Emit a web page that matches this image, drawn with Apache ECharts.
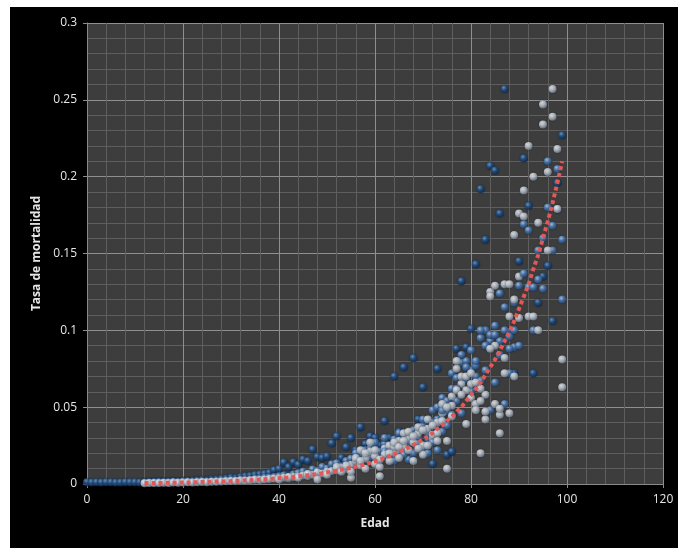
<!DOCTYPE html>
<html>
<head>
<meta charset="utf-8">
<script src="https://cdn.jsdelivr.net/npm/echarts@6/dist/echarts.min.js"></script>
<style>
html,body{margin:0;padding:0;background:#ffffff;}
#chart{position:absolute;left:0;top:0;width:678px;height:548px;}
</style>
</head>
<body>
<div id="chart"></div>
<script>
// ---- DATA ----
var xTickLabels = ['0','20','40','60','80','100','120'];
var yTickLabels = ['0','0.05','0.1','0.15','0.2','0.25','0.3'];

var darkPoints = [[0,0.0012],[1,0.0010],[2,0.0011],[3,0.0010],[4,0.0012],[5,0.0011],[6,0.0009],[7,0.0010],[8,0.0012],[9,0.0011],[10,0.0011],[11,0.0010],[12,0.0012],[13,0.0013],[14,0.0015],[15,0.0016],[16,0.0014],[17,0.0016],[18,0.0018],[19,0.0017],[20,0.0020],[21,0.0019],[22,0.0021],[23,0.0024],[24,0.0026],[25,0.0023],[26,0.0027],[27,0.0030],[28,0.0034],[29,0.0036],[30,0.0040],[31,0.0038],[32,0.0045],[33,0.0050],[34,0.0052],[35,0.0058],[36,0.0062],[37,0.0066],[38,0.0072],[39,0.0090],[40,0.0098],[41,0.0140],[42,0.0110],[43,0.0142],[44,0.0125],[45,0.0160],[46,0.0150],[47,0.0225],[48,0.0175],[49,0.0170],[50,0.0180],[51,0.0265],[52,0.0310],[53,0.0170],[54,0.0240],[55,0.0300],[56,0.0220],[57,0.0370],[58,0.0260],[59,0.0310],[60,0.0300],[61,0.0250],[62,0.0410],[63,0.0300],[64,0.0700],[65,0.0340],[66,0.0760],[67,0.0280],[68,0.0820],[69,0.0420],[70,0.0630],[71,0.0280],[72,0.0130],[73,0.0750],[74,0.0430],[75,0.0190],[76,0.0210],[77,0.0880],[78,0.1320],[79,0.0890],[80,0.1010],[81,0.1430],[82,0.1920],[83,0.1590],[84,0.2070],[85,0.2040],[86,0.1760],[87,0.2570],[88,0.0990],[89,0.0720],[90,0.1450],[91,0.2120],[92,0.1810],[93,0.0720],[94,0.1180],[95,0.1350],[96,0.1420],[97,0.1060],[98,0.1960],[99,0.2270]];

var midPoints = [[12,0.0008],[13,0.0009],[14,0.0010],[15,0.0011],[16,0.0010],[17,0.0012],[18,0.0013],[19,0.0012],[20,0.0014],[21,0.0015],[22,0.0013],[23,0.0016],[24,0.0018],[25,0.0017],[26,0.0016],[27,0.0020],[28,0.0022],[29,0.0024],[30,0.0026],[31,0.0023],[32,0.0028],[33,0.0030],[34,0.0029],[35,0.0034],[36,0.0036],[37,0.0040],[38,0.0042],[39,0.0045],[40,0.0050],[41,0.0055],[42,0.0048],[43,0.0062],[44,0.0070],[45,0.0080],[46,0.0068],[47,0.0095],[48,0.0085],[49,0.0110],[50,0.0100],[51,0.0128],[52,0.0135],[53,0.0115],[54,0.0150],[55,0.0165],[56,0.0140],[57,0.0190],[58,0.0220],[59,0.0175],[60,0.0240],[61,0.0210],[62,0.0260],[63,0.0230],[64,0.0290],[65,0.0200],[66,0.0310],[67,0.0270],[68,0.0350],[69,0.0300],[70,0.0380],[71,0.0330],[72,0.0480],[73,0.0420],[74,0.0560],[75,0.0470],[76,0.0620],[77,0.0540],[78,0.0790],[79,0.0680],[80,0.0740],[81,0.0700],[82,0.0950],[83,0.1000],[84,0.0930],[85,0.1030],[86,0.0840],[87,0.1150],[88,0.0960],[89,0.0890],[90,0.1290],[91,0.1690],[92,0.1280],[93,0.1000],[94,0.1520],[95,0.1270],[96,0.1800],[97,0.1680],[98,0.2050],[99,0.1590]];

var midPoints2 = [[60,0.0270],[62,0.0210],[64,0.0150],[66,0.0190],[68,0.0200],[70,0.0420],[71,0.0200],[72,0.0270],[73,0.0220],[74,0.0480],[75,0.0380],[76,0.0450],[77,0.0620],[78,0.0840],[79,0.0760],[80,0.0870],[81,0.0800],[82,0.0670],[83,0.0740],[84,0.0970],[85,0.0970],[86,0.1240],[87,0.0520],[88,0.0880],[89,0.1180],[90,0.0900],[91,0.1370],[92,0.1650],[93,0.1280],[94,0.1330],[95,0.1600],[96,0.2100],[97,0.1520],[98,0.1790],[99,0.1200]];

var midPoints3 = [[56,0.0200],[59,0.0230],[62,0.0300],[65,0.0330],[67,0.0160],[69,0.0260],[70,0.0220],[72,0.0400],[73,0.0500],[74,0.0340],[75,0.0540],[76,0.0720],[77,0.0690],[78,0.0460],[79,0.0800],[80,0.0600],[81,0.0770],[82,0.1000],[83,0.0900],[84,0.0480],[85,0.0660],[86,0.0930],[87,0.1000],[88,0.0720],[89,0.1000]];

var lightPoints = [[12,0.0005],[13,0.0006],[14,0.0006],[15,0.0007],[16,0.0008],[17,0.0007],[18,0.0009],[19,0.0008],[20,0.0010],[21,0.0011],[22,0.0010],[23,0.0012],[24,0.0013],[25,0.0012],[26,0.0015],[27,0.0014],[28,0.0016],[29,0.0018],[30,0.0019],[31,0.0020],[32,0.0022],[33,0.0021],[34,0.0025],[35,0.0027],[36,0.0026],[37,0.0030],[38,0.0032],[39,0.0035],[40,0.0037],[41,0.0040],[42,0.0038],[43,0.0046],[44,0.0049],[45,0.0055],[46,0.0052],[47,0.0060],[48,0.0075],[49,0.0068],[50,0.0080],[51,0.0085],[52,0.0090],[53,0.0105],[54,0.0098],[55,0.0125],[56,0.0150],[57,0.0120],[58,0.0165],[59,0.0210],[60,0.0180],[61,0.0050],[62,0.0230],[63,0.0250],[64,0.0200],[65,0.0280],[66,0.0240],[67,0.0300],[68,0.0270],[69,0.0330],[70,0.0250],[71,0.0360],[72,0.0290],[73,0.0400],[74,0.0460],[75,0.0100],[76,0.0510],[77,0.0750],[78,0.0650],[79,0.0610],[80,0.0560],[81,0.0520],[82,0.0200],[83,0.0580],[84,0.1250],[85,0.1290],[86,0.0330],[87,0.1300],[88,0.1090],[89,0.1620],[90,0.1350],[91,0.1910],[92,0.2200],[93,0.2000],[94,0.1700],[95,0.2470],[96,0.2030],[97,0.2570],[98,0.2180],[99,0.0630]];

var lightPoints2 = [[40,0.0030],[42,0.0045],[44,0.0040],[46,0.0065],[48,0.0030],[50,0.0060],[52,0.0110],[53,0.0080],[54,0.0120],[55,0.0040],[56,0.0170],[57,0.0220],[58,0.0100],[59,0.0270],[60,0.0130],[61,0.0110],[62,0.0190],[63,0.0150],[64,0.0240],[65,0.0170],[66,0.0330],[67,0.0220],[68,0.0150],[69,0.0370],[70,0.0190],[71,0.0420],[72,0.0320],[73,0.0330],[74,0.0520],[75,0.0280],[76,0.0570],[77,0.0800],[78,0.0700],[79,0.0390],[80,0.0650],[81,0.0480],[82,0.0620],[83,0.0420],[84,0.1220],[85,0.0900],[86,0.0450],[87,0.0820],[88,0.0460],[89,0.1200],[90,0.1760],[91,0.1740],[92,0.1090],[93,0.1090],[94,0.1000],[95,0.2340],[96,0.1520],[97,0.2390],[98,0.1790],[99,0.0810]];

var lightPoints3 = [[55,0.0080],[57,0.0150],[58,0.0200],[60,0.0220],[61,0.0160],[63,0.0200],[64,0.0270],[65,0.0240],[66,0.0280],[67,0.0340],[68,0.0310],[69,0.0230],[70,0.0350],[71,0.0250],[72,0.0380],[73,0.0280],[74,0.0410],[75,0.0500],[76,0.0440],[77,0.0610],[78,0.0580],[79,0.0700],[80,0.0720],[81,0.0660],[82,0.0540],[83,0.0470],[84,0.0880],[85,0.0520],[86,0.0490],[87,0.0720],[88,0.1300],[89,0.0700],[90,0.1080]];

var trendAges = [12,13,14,15,16,17,18,19,20,21,22,23,24,25,26,27,28,29,30,31,32,33,34,35,36,37,38,39,40,41,42,43,44,45,46,47,48,49,50,51,52,53,54,55,56,57,58,59,60,61,62,63,64,65,66,67,68,69,70,71,72,73,74,75,76,77,78,79,80,81,82,83,84,85,86,87,88,89,90,91,92,93,94,95,96,97,98,99];
var trendValues = [0.0005,0.0006,0.0006,0.0007,0.0007,0.0008,0.0008,0.0009,0.0010,0.0010,0.0011,0.0012,0.0013,0.0014,0.0015,0.0016,0.0017,0.0018,0.0019,0.0021,0.0022,0.0024,0.0025,0.0027,0.0029,0.0031,0.0033,0.0036,0.0038,0.0041,0.0043,0.0046,0.0050,0.0053,0.0057,0.0061,0.0065,0.0070,0.0075,0.0080,0.0086,0.0092,0.0098,0.0105,0.0113,0.0120,0.0129,0.0138,0.0148,0.0158,0.0169,0.0181,0.0194,0.0208,0.0222,0.0238,0.0255,0.0270,0.0290,0.0310,0.0330,0.0360,0.0380,0.0410,0.0440,0.0470,0.0500,0.0540,0.0580,0.0620,0.0660,0.0710,0.0760,0.0810,0.0870,0.0930,0.0990,0.1060,0.1140,0.1220,0.1300,0.1400,0.1490,0.1600,0.1710,0.1830,0.1960,0.2100];

// ---- CHART ----
function sphere(light, base, dark){
  return {type:'radial', x:0.38, y:0.32, r:0.7,
    colorStops:[{offset:0,color:light},{offset:0.45,color:base},{offset:1,color:dark}]};
}
var trendData = trendAges.map(function(a,i){return [a, trendValues[i]];});

var darkStyle = {color:sphere('#7fa6d6','#22558f','#0f2a4c'), shadowBlur:2, shadowColor:'rgba(0,0,0,0.5)'};
var midStyle = {color:sphere('#c9ddf5','#4f82c2','#24446e'), shadowBlur:2, shadowColor:'rgba(0,0,0,0.5)'};
var lightStyle = {color:sphere('#ffffff','#cdd5df','#6f7c8c'), shadowBlur:2, shadowColor:'rgba(0,0,0,0.5)'};

var chart = echarts.init(document.getElementById('chart'), null, {renderer:'canvas'});
var labelFont = {color:'#e6e6e6', fontSize:12, fontFamily:'Open Sans'};
function sc(name, data, style){
  return {type:'scatter', name:name, data:data, symbolSize:8, animation:false,
    emphasis:{disabled:true}, itemStyle:style};
}
chart.setOption({
  backgroundColor:'#000000',
  animation:false,
  graphic:[
    {type:'rect', left:0, top:0, shape:{width:678, height:7}, style:{fill:'#ffffff'}, z:100},
    {type:'rect', left:0, top:0, shape:{width:10, height:548}, style:{fill:'#ffffff'}, z:100}
  ],
  grid:{left:87, right:15, top:23, bottom:64, show:true, backgroundColor:'#3d3d3d', borderWidth:0},
  xAxis:{
    type:'value', min:0, max:120, interval:20,
    name:'Edad', nameLocation:'middle', nameGap:34,
    nameTextStyle:{color:'#e6e6e6', fontSize:12, fontWeight:'bold', fontFamily:'Open Sans'},
    axisLine:{show:true, onZero:false, lineStyle:{color:'#8a8a8a', width:1}},
    axisTick:{show:true, length:4, inside:false, lineStyle:{color:'#8a8a8a'}},
    axisLabel:Object.assign({margin:10, formatter:function(v){return xTickLabels[Math.round(v/20)];}}, labelFont),
    splitLine:{show:true, lineStyle:{color:'#8f8f8f', width:1}},
    minorTick:{show:false, splitNumber:5},
    minorSplitLine:{show:true, lineStyle:{color:'#5e5e5e', width:1}}
  },
  yAxis:{
    type:'value', min:0, max:0.3, interval:0.05,
    name:'Tasa de mortalidad', nameLocation:'middle', nameGap:41,
    nameTextStyle:{color:'#e6e6e6', fontSize:12, fontWeight:'bold', fontFamily:'Open Sans'},
    axisLine:{show:true, lineStyle:{color:'#8a8a8a', width:1}},
    axisTick:{show:true, length:4, lineStyle:{color:'#8a8a8a'}},
    axisLabel:Object.assign({margin:10, formatter:function(v){return yTickLabels[Math.round(v/0.05)];}}, labelFont),
    splitLine:{show:true, lineStyle:{color:'#8f8f8f', width:1}},
    minorTick:{show:false, splitNumber:5},
    minorSplitLine:{show:true, lineStyle:{color:'#5e5e5e', width:1}}
  },
  series:[
    sc('dark', darkPoints, darkStyle),
    sc('mid', midPoints, midStyle),
    sc('mid3', midPoints3, midStyle),
    sc('light', lightPoints, lightStyle),
    sc('mid2', midPoints2, midStyle),
    sc('light2', lightPoints2, lightStyle),
    sc('light3', lightPoints3, lightStyle),
    {type:'line', name:'trend', data:trendData, showSymbol:false, symbol:'none', smooth:false,
      animation:false, z:5,
      lineStyle:{color:'#e05858', width:4, type:[4,3], cap:'butt'}}
  ]
});
</script>
</body>
</html>
